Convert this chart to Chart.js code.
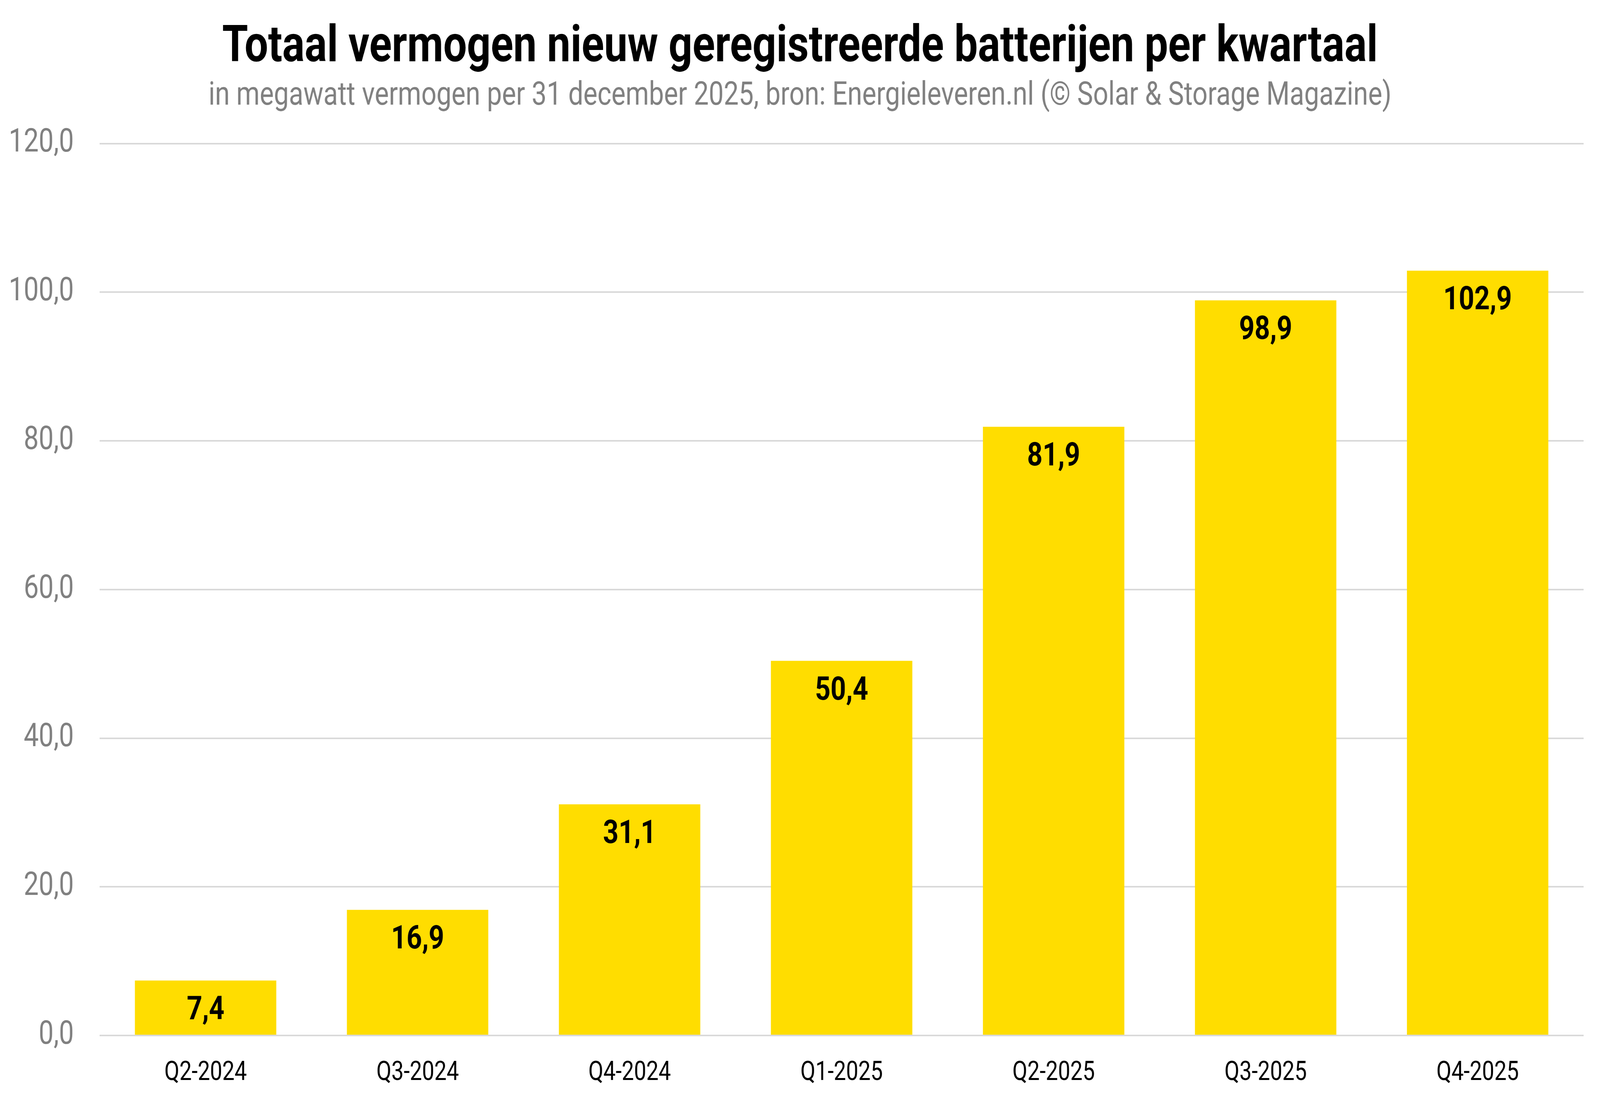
<!DOCTYPE html>
<html>
<head>
<meta charset="utf-8">
<script src="https://cdn.jsdelivr.net/npm/chart.js@4/dist/chart.umd.min.js"></script>
<style>
    html, body { margin: 0; padding: 0; background: #ffffff; overflow: hidden; }
    #wrap { width: 4980px; height: 2807px; position: relative; transform-origin: 0 0; }
</style>
</head>
<body>
<div id="wrap"><canvas id="batteryChart"></canvas></div>
<script>
// Chart data
const quarters = ['Q2-2024', 'Q3-2024', 'Q4-2024', 'Q1-2025', 'Q2-2025', 'Q3-2025', 'Q4-2025'];
const capacityMW = [7.4, 16.9, 31.1, 50.4, 81.9, 98.9, 102.9];
const yTicks = [0, 20, 40, 60, 80, 100, 120];

const titleText = 'Totaal vermogen nieuw geregistreerde batterijen per kwartaal';
const subtitleText = 'in megawatt vermogen per 31 december 2025, bron: Energieleveren.nl (© Solar & Storage Magazine)';

// The chart is laid out at 4980x2807; the browser window may be smaller (it caps at 4096 wide),
// so fit the whole drawing into the window
const wrap = document.getElementById('wrap');
wrap.style.transform = `scale(${window.innerWidth / 4980}, ${window.innerHeight / 2807})`;

// Dutch decimal comma
function formatNumber(value) {
    return value.toFixed(1).replace('.', ',');
}

// Draw value labels just inside the top of each bar
const barLabels = {
    id: 'barLabels',
    afterDatasetsDraw(chart) {
        const ctx = chart.ctx;
        const meta = chart.getDatasetMeta(0);
        ctx.save();
        ctx.font = 'bold 84px Roboto';
        ctx.fillStyle = '#000000';
        ctx.textAlign = 'center';
        ctx.textBaseline = 'alphabetic';
        meta.data.forEach((bar, i) => {
            ctx.fillText(formatNumber(capacityMW[i]), bar.x, bar.y + 99);
        });
        ctx.restore();
    }
};

const ctx = document.getElementById('batteryChart').getContext('2d');
new Chart(ctx, {
    type: 'bar',
    data: {
        labels: quarters,
        datasets: [{
            data: capacityMW,
            backgroundColor: '#FFDD00',
            borderWidth: 0,
            barPercentage: 0.667,
            categoryPercentage: 1.0
        }]
    },
    options: {
        responsive: true,
        maintainAspectRatio: false,
        devicePixelRatio: 1,
        animation: false,
        layout: {
            padding: 0
        },
        plugins: {
            legend: { display: false },
            tooltip: { enabled: false },
            title: {
                display: true,
                text: titleText,
                color: '#000000',
                font: { family: 'Roboto', size: 130, weight: 'bold', lineHeight: 1.1 },
                padding: { top: 53, bottom: 0 }
            },
            subtitle: {
                display: true,
                text: subtitleText,
                color: '#808080',
                font: { family: 'Roboto', size: 83, lineHeight: 1.2 },
                padding: { top: 1, bottom: 71 }
            }
        },
        scales: {
            x: {
                afterFit(axis) {
                    axis.height = 155;
                },
                grid: { display: false },
                border: { display: false },
                ticks: {
                    color: '#000000',
                    font: { family: 'Roboto', size: 68 },
                    padding: 48
                }
            },
            y: {
                min: 0,
                max: 120,
                afterBuildTicks(axis) {
                    axis.ticks = yTicks.map(v => ({ value: v }));
                },
                afterFit(axis) {
                    axis.width = 310;
                },
                grid: {
                    color: '#d9d9d9',
                    lineWidth: 4,
                    drawTicks: false
                },
                border: { display: false },
                ticks: {
                    color: '#808080',
                    font: { family: 'Roboto', size: 83 },
                    padding: 80,
                    callback: value => formatNumber(value)
                }
            },
            // empty right margin, kept as a box so the titles stay centred on the page
            rightMargin: {
                type: 'linear',
                position: 'right',
                afterFit(axis) {
                    axis.width = 51;
                },
                grid: { display: false },
                border: { display: false },
                ticks: { display: false }
            }
        }
    },
    plugins: [barLabels]
});
</script>
</body>
</html>
